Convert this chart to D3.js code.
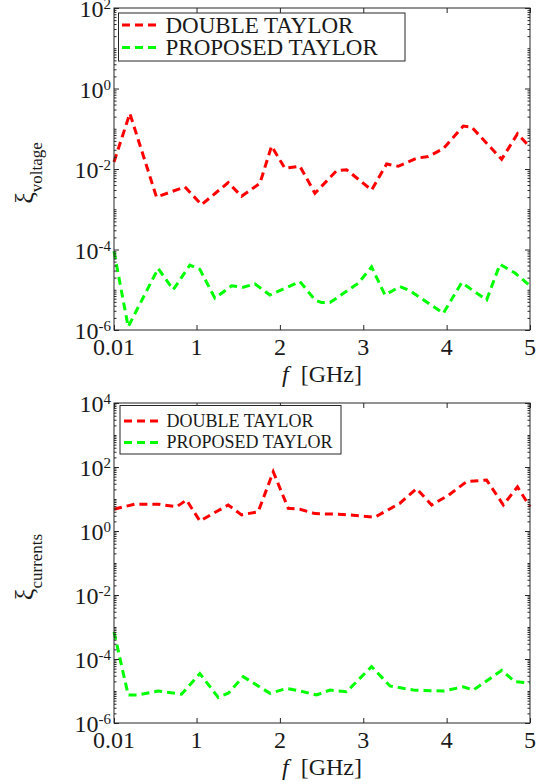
<!DOCTYPE html>
<html><head><meta charset="utf-8">
<script src="https://cdn.jsdelivr.net/npm/d3@7"></script>
<style>html,body{margin:0;padding:0;background:#fff;}svg{display:block;}</style>
</head><body>
<script>
// ---- data ----
const xTicks = [0.01, 1, 2, 3, 4, 5];
const xTickLabels = ["0.01", "1", "2", "3", "4", "5"];
const legendLabels = ["DOUBLE TAYLOR", "PROPOSED TAYLOR"];
const seriesColors = ["#ff0000", "#00ff00"];

// Panel 1: voltage
const vRedF = [0.01, 0.2, 0.52, 0.86, 1.06, 1.38, 1.54, 1.76, 1.9, 2.06, 2.24, 2.42, 2.68, 2.8, 3.1, 3.28, 3.42, 3.64, 3.78, 3.96, 4.2, 4.3, 4.66, 4.85, 5.0];
const vRedV = [0.015, 0.24, 0.002, 0.0036, 0.0013, 0.0046, 0.0021, 0.0044, 0.037, 0.0104, 0.0117, 0.0025, 0.0091, 0.0096, 0.003, 0.0133, 0.0117, 0.0185, 0.0205, 0.032, 0.117, 0.11, 0.0174, 0.075, 0.035];
const vGreenF = [0.01, 0.18, 0.54, 0.72, 0.92, 1.04, 1.22, 1.42, 1.56, 1.7, 1.88, 2.24, 2.42, 2.5, 2.6, 2.94, 3.1, 3.26, 3.44, 3.56, 3.96, 4.18, 4.48, 4.64, 4.82, 5.0];
const vGreenV = [9e-5, 1.2e-6, 3.4e-5, 1.0e-5, 4.1e-5, 3.2e-5, 6.2e-6, 1.25e-5, 1.15e-5, 1.4e-5, 7.4e-6, 1.6e-5, 5.6e-6, 4.8e-6, 4.8e-6, 1.45e-5, 3.7e-5, 7.4e-6, 1.2e-5, 9.5e-6, 2.6e-6, 1.5e-5, 5.6e-6, 4.3e-5, 2.6e-5, 1.26e-5];
const vYTicks = [1e-6, 1e-4, 1e-2, 1e0, 1e2];
const vYExp = ["-6", "-4", "-2", "0", "2"];

// Panel 2: currents
const cRedF = [0.01, 0.26, 0.54, 0.76, 0.88, 1.04, 1.38, 1.54, 1.74, 1.92, 2.1, 2.24, 2.42, 2.76, 3.14, 3.44, 3.64, 3.82, 4.02, 4.24, 4.48, 4.68, 4.85, 5.0];
const cRedV = [4.8, 6.9, 6.9, 5.7, 9.3, 2.05, 6.5, 3.2, 4.0, 71, 5.1, 4.8, 3.5, 3.3, 2.7, 7.4, 21, 6.5, 13, 35, 39, 6.5, 24, 5.7];
const cGreenF = [0.01, 0.18, 0.3, 0.54, 0.82, 1.04, 1.26, 1.38, 1.56, 1.88, 2.08, 2.24, 2.44, 2.6, 2.8, 3.1, 3.32, 3.6, 3.96, 4.2, 4.32, 4.66, 4.82, 5.0];
const cGreenV = [7e-4, 7.5e-6, 7.5e-6, 1e-5, 7.9e-6, 3.5e-5, 6.3e-6, 8.5e-6, 2.8e-5, 8.5e-6, 1.2e-5, 1e-5, 7.5e-6, 1.07e-5, 9.5e-6, 5.8e-5, 1.44e-5, 1.07e-5, 1e-5, 1.35e-5, 1.07e-5, 4.4e-5, 1.95e-5, 1.8e-5];
const cYTicks = [1e-6, 1e-4, 1e-2, 1e0, 1e2, 1e4];
const cYExp = ["-6", "-4", "-2", "0", "2", "4"];

// ---- drawing ----
const W = 546, H = 784;
const FONT = "'Liberation Serif','Times New Roman',serif";
const svg = d3.select("body").append("svg").attr("width", W).attr("height", H)
  .style("font-family", FONT);
const axisColor = "#262626";
const textColor = "#1a1a1a";

function panel(opts) {
  const {top, bottom, left, right, yDomain, yTicks, yExp, series, ylabelMain, ylabelSub,
         legend} = opts;
  const x = d3.scaleLinear().domain([0.01, 5]).range([left, right]);
  const y = d3.scaleLog().domain(yDomain).range([bottom, top]);
  const g = svg.append("g");

  // minor log ticks
  const minor = [];
  const lo = Math.round(Math.log10(yDomain[0])), hi = Math.round(Math.log10(yDomain[1]));
  for (let e = lo; e < hi; e++) {
    for (let m = 1; m <= 9; m++) {
      const v = m * Math.pow(10, e);
      if (m === 1 && yTicks.some(t => Math.abs(Math.log10(t) - e) < 1e-9)) continue;
      minor.push(v);
    }
  }
  const axL = d3.axisLeft(y).tickValues(minor).tickSize(-2.5).tickFormat("");
  const axR = d3.axisRight(y).tickValues(minor).tickSize(-2.5).tickFormat("");
  const majL = d3.axisLeft(y).tickValues(yTicks).tickSize(-5).tickFormat("");
  const majR = d3.axisRight(y).tickValues(yTicks).tickSize(-5).tickFormat("");
  const xb = d3.axisBottom(x).tickValues(xTicks).tickSize(-5).tickFormat("");
  const xt = d3.axisTop(x).tickValues(xTicks).tickSize(-5).tickFormat("");

  // lines
  const line = d3.line().x(d => x(d[0])).y(d => y(d[1]));
  series.forEach((s, i) => {
    const pts = s.f.map((f, k) => [f, s.v[k]]);
    g.append("path").datum(pts).attr("d", line)
      .attr("fill", "none").attr("stroke", seriesColors[i]).attr("stroke-width", 3)
      .attr("stroke-dasharray", "8,5");
  });

  [[axL, left], [majL, left], [axR, right], [majR, right]].forEach(([a, px]) => {
    const ag = g.append("g").attr("transform", `translate(${px},0)`).call(a);
    ag.select(".domain").remove();
    ag.selectAll("line").attr("stroke", axisColor);
  });
  [[xb, bottom], [xt, top]].forEach(([a, py]) => {
    const ag = g.append("g").attr("transform", `translate(0,${py})`).call(a);
    ag.select(".domain").remove();
    ag.selectAll("line").attr("stroke", axisColor);
  });
  g.append("rect").attr("x", left).attr("y", top).attr("width", right - left).attr("height", bottom - top)
    .attr("fill", "none").attr("stroke", axisColor).attr("stroke-width", 1);

  // y tick labels
  yTicks.forEach((t, i) => {
    const tx = g.append("text").attr("x", left - 3).attr("y", y(t) + 9)
      .attr("text-anchor", "end").attr("fill", textColor).attr("font-size", 24)
      .attr("font-family", FONT);
    tx.append("tspan").text("10");
    tx.append("tspan").attr("font-size", 15).attr("dy", -8).text(yExp[i]);
  });
  // x tick labels
  xTicks.forEach((t, i) => {
    g.append("text").attr("x", x(t)).attr("y", bottom + 25)
      .attr("text-anchor", "middle").attr("fill", textColor).attr("font-size", 24)
      .attr("font-family", FONT).text(xTickLabels[i]);
  });
  // x label
  const xl = g.append("text").attr("x", (left + right) / 2).attr("y", bottom + 52)
    .attr("text-anchor", "middle").attr("fill", textColor).attr("font-size", 24)
    .attr("font-family", FONT);
  xl.append("tspan").attr("font-style", "italic").text("f");
  xl.append("tspan").text("\u00a0\u00a0[GHz]");
  // y label
  const yl = g.append("text")
    .attr("transform", `translate(33,${(top + bottom) / 2 + 4}) rotate(-90)`)
    .attr("text-anchor", "middle").attr("fill", textColor).attr("font-size", 26)
    .attr("font-family", FONT);
  yl.append("tspan").text(ylabelMain);
  yl.append("tspan").attr("font-size", 17).attr("dy", 9).text(ylabelSub);

  // legend
  const L = legend;
  g.append("rect").attr("x", L.x0).attr("y", L.y0).attr("width", L.x1 - L.x0).attr("height", L.y1 - L.y0)
    .attr("fill", "#fff").attr("stroke", axisColor).attr("stroke-width", 1);
  legendLabels.forEach((lab, i) => {
    g.append("line").attr("x1", L.sx0).attr("x2", L.sx1).attr("y1", L.rows[i]).attr("y2", L.rows[i])
      .attr("stroke", seriesColors[i]).attr("stroke-width", 3).attr("stroke-dasharray", "8,5");
    g.append("text").attr("x", L.tx).attr("y", L.rows[i] + L.fs * 0.33)
      .attr("fill", textColor).attr("font-size", L.fs).attr("font-family", FONT).text(lab);
  });
}

panel({
  top: 8, bottom: 330, left: 114, right: 530,
  yDomain: [1e-6, 1e2], yTicks: vYTicks, yExp: vYExp,
  series: [{f: vRedF, v: vRedV}, {f: vGreenF, v: vGreenV}],
  ylabelMain: "\u03be", ylabelSub: "voltage",
  legend: {x0: 118.5, x1: 405, y0: 13, y1: 61, sx0: 122, sx1: 160, tx: 165.5, rows: [25, 47.5], fs: 23}
});
panel({
  top: 403, bottom: 723, left: 114, right: 530,
  yDomain: [1e-6, 1e4], yTicks: cYTicks, yExp: cYExp,
  series: [{f: cRedF, v: cRedV}, {f: cGreenF, v: cGreenV}],
  ylabelMain: "\u03be", ylabelSub: "currents",
  legend: {x0: 120, x1: 341, y0: 405.5, y1: 454, sx0: 124, sx1: 162, tx: 166.5, rows: [421, 442.5], fs: 18}
});
</script>
</body></html>
